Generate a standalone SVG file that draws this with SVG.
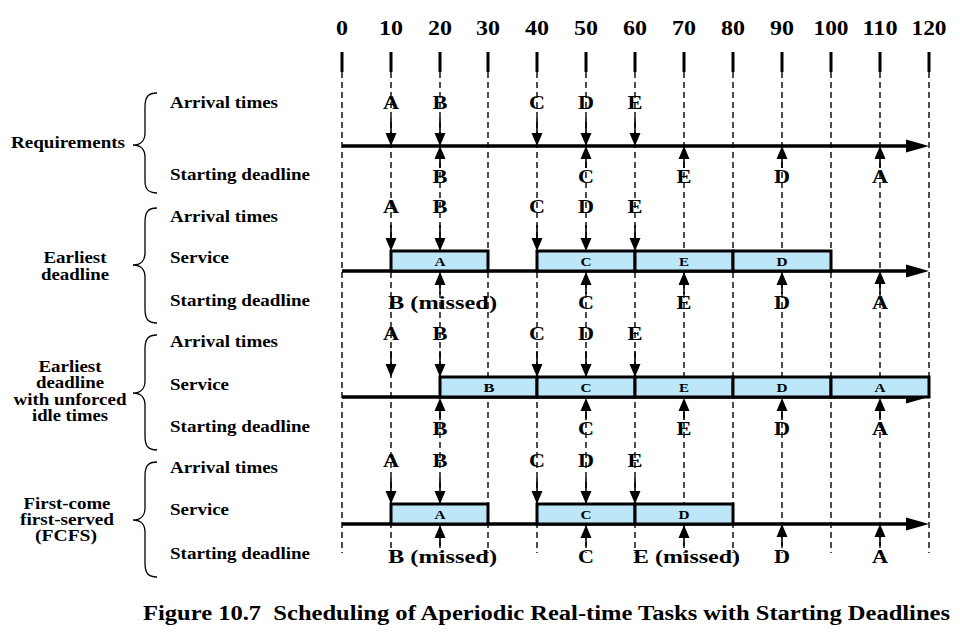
<svg xmlns="http://www.w3.org/2000/svg" xmlns:xlink="http://www.w3.org/1999/xlink" width="960" height="636" viewBox="0 0 960 636" font-family="'Liberation Serif', 'Times New Roman', serif">
<style>
text{font-family:"Liberation Serif","Times New Roman",Times,serif;font-weight:bold;fill:#000}
.num{font-size:20px;text-anchor:middle}
.lbl{font-size:16px}
.grp{font-size:16px;text-anchor:middle}
.let{font-size:18px;text-anchor:middle}
.miss{font-size:18px}
.bx{font-size:13px;text-anchor:middle}
.cap{font-size:20px;white-space:pre}
.dash{stroke:#000;stroke-width:1.4;stroke-dasharray:6 4;fill:none}
.tick{stroke:#000;stroke-width:3}
.axis{stroke:#000;stroke-width:3.5;fill:none}
.arr{stroke:#000;stroke-width:1.6}
.box{fill:#bde6f8;stroke:#000;stroke-width:3}
.brace{fill:none;stroke:#000;stroke-width:1.3}
</style>
<defs>
<path id="hd" d="M-5.5,-13 L5.5,-13 L0,0 Z" fill="#000"/>
<path id="hu" d="M-5.5,13 L5.5,13 L0,0 Z" fill="#000"/>
<path id="ax" d="M906,-6.5 L929,0 L906,6.5 Z" fill="#000"/>
</defs>

<g id="timeline">
<text class="num" x="342" y="35" textLength="12" lengthAdjust="spacingAndGlyphs">0</text>
<text class="num" x="391" y="35" textLength="24" lengthAdjust="spacingAndGlyphs">10</text>
<text class="num" x="440" y="35" textLength="24" lengthAdjust="spacingAndGlyphs">20</text>
<text class="num" x="488" y="35" textLength="24" lengthAdjust="spacingAndGlyphs">30</text>
<text class="num" x="537" y="35" textLength="24" lengthAdjust="spacingAndGlyphs">40</text>
<text class="num" x="586" y="35" textLength="24" lengthAdjust="spacingAndGlyphs">50</text>
<text class="num" x="635" y="35" textLength="24" lengthAdjust="spacingAndGlyphs">60</text>
<text class="num" x="684" y="35" textLength="24" lengthAdjust="spacingAndGlyphs">70</text>
<text class="num" x="733" y="35" textLength="24" lengthAdjust="spacingAndGlyphs">80</text>
<text class="num" x="782" y="35" textLength="24" lengthAdjust="spacingAndGlyphs">90</text>
<text class="num" x="831" y="35" textLength="35" lengthAdjust="spacingAndGlyphs">100</text>
<text class="num" x="880" y="35" textLength="35" lengthAdjust="spacingAndGlyphs">110</text>
<text class="num" x="929" y="35" textLength="35" lengthAdjust="spacingAndGlyphs">120</text>
<path class="tick" d="M342,52V72M391,52V72M440,52V72M488,52V72M537,52V72M586,52V72M635,52V72M684,52V72M733,52V72M782,52V72M831,52V72M880,52V72M929,52V72"/>
</g>

<g id="connectors">
<path class="dash" d="M342,72V553M391,72V553M440,72V553M488,72V553M537,72V553M586,72V553M635,72V553M684,72V553M733,72V553M782,72V553M831,72V553M880,72V553M929,72V553"/>
<path class="axis" d="M342,146H912M342,271H912M342,397H912M342,524H912"/>
<use href="#ax" y="146"/><use href="#ax" y="271"/><use href="#ax" y="397"/><use href="#ax" y="524"/>
<path class="arr" d="M391,118V136M440,118V136M537,118V136M586,118V136M635,118V136"/>
<use href="#hd" x="391" y="146"/><use href="#hd" x="440" y="146"/><use href="#hd" x="537" y="146"/><use href="#hd" x="586" y="146"/><use href="#hd" x="635" y="146"/>
<path class="arr" d="M440,156V168M586,156V168M684,156V168M782,156V168M880,156V168"/>
<use href="#hu" x="440" y="146"/><use href="#hu" x="586" y="146"/><use href="#hu" x="684" y="146"/><use href="#hu" x="782" y="146"/><use href="#hu" x="880" y="146"/>
</g>

<g id="requirements">
<path class="brace" d="M157,93 C148,93 145,97 145,107 L145,133 C145,141 140,145 133,145 C140,145 145,149 145,157 L145,181 C145,189 148,193 157,193"/>
<text class="lbl" x="11" y="148" textLength="114" lengthAdjust="spacingAndGlyphs">Requirements</text>
<text class="lbl" x="170" y="108" textLength="108" lengthAdjust="spacingAndGlyphs">Arrival times</text>
<text class="lbl" x="170" y="180" textLength="140" lengthAdjust="spacingAndGlyphs">Starting deadline</text>
<text class="let" x="391" y="109" textLength="16" lengthAdjust="spacingAndGlyphs">A</text>
<text class="let" x="440" y="109" textLength="15" lengthAdjust="spacingAndGlyphs">B</text>
<text class="let" x="537" y="109" textLength="16" lengthAdjust="spacingAndGlyphs">C</text>
<text class="let" x="586" y="109" textLength="16" lengthAdjust="spacingAndGlyphs">D</text>
<text class="let" x="635" y="109" textLength="15" lengthAdjust="spacingAndGlyphs">E</text>
<text class="let" x="440" y="183" textLength="15" lengthAdjust="spacingAndGlyphs">B</text>
<text class="let" x="586" y="183" textLength="16" lengthAdjust="spacingAndGlyphs">C</text>
<text class="let" x="684" y="183" textLength="15" lengthAdjust="spacingAndGlyphs">E</text>
<text class="let" x="782" y="183" textLength="16" lengthAdjust="spacingAndGlyphs">D</text>
<text class="let" x="880" y="183" textLength="16" lengthAdjust="spacingAndGlyphs">A</text>
</g>

<g id="earliest-deadline">
<path class="brace" d="M157,208 C148,208 145,212 145,222 L145,253 C145,261 140,265 133,265 C140,265 145,269 145,277 L145,309 C145,319 148,323 157,323"/>
<text class="grp" x="75" y="263" textLength="63" lengthAdjust="spacingAndGlyphs">Earliest</text>
<text class="grp" x="75" y="280" textLength="68" lengthAdjust="spacingAndGlyphs">deadline</text>
<text class="lbl" x="170" y="222" textLength="108" lengthAdjust="spacingAndGlyphs">Arrival times</text>
<text class="lbl" x="170" y="263" textLength="59" lengthAdjust="spacingAndGlyphs">Service</text>
<text class="lbl" x="170" y="306" textLength="140" lengthAdjust="spacingAndGlyphs">Starting deadline</text>
<rect class="box" x="391" y="251" width="97" height="20"/>
<rect class="box" x="537" y="251" width="98" height="20"/>
<rect class="box" x="635" y="251" width="98" height="20"/>
<rect class="box" x="733" y="251" width="98" height="20"/>
<text class="bx" x="440" y="266" textLength="11" lengthAdjust="spacingAndGlyphs">A</text>
<text class="bx" x="586" y="266" textLength="11" lengthAdjust="spacingAndGlyphs">C</text>
<text class="bx" x="684" y="266" textLength="10" lengthAdjust="spacingAndGlyphs">E</text>
<text class="bx" x="782" y="266" textLength="11" lengthAdjust="spacingAndGlyphs">D</text>
<path class="arr" d="M391,225V241M440,225V241M537,225V241M586,225V241M635,225V241"/>
<use href="#hd" x="391" y="251"/><use href="#hd" x="440" y="251"/><use href="#hd" x="537" y="251"/><use href="#hd" x="586" y="251"/><use href="#hd" x="635" y="251"/>
<path class="arr" d="M440,281V294M586,281V294M684,281V294M782,281V294M880,281V294"/>
<use href="#hu" x="440" y="272"/><use href="#hu" x="586" y="272"/><use href="#hu" x="684" y="272"/><use href="#hu" x="782" y="272"/><use href="#hu" x="880" y="271"/>
<text class="let" x="391" y="213" textLength="16" lengthAdjust="spacingAndGlyphs">A</text>
<text class="let" x="440" y="213" textLength="15" lengthAdjust="spacingAndGlyphs">B</text>
<text class="let" x="537" y="213" textLength="16" lengthAdjust="spacingAndGlyphs">C</text>
<text class="let" x="586" y="213" textLength="16" lengthAdjust="spacingAndGlyphs">D</text>
<text class="let" x="635" y="213" textLength="15" lengthAdjust="spacingAndGlyphs">E</text>
<text class="miss" x="388" y="309" textLength="109" lengthAdjust="spacingAndGlyphs">B (missed)</text>
<text class="let" x="586" y="309" textLength="16" lengthAdjust="spacingAndGlyphs">C</text>
<text class="let" x="684" y="309" textLength="15" lengthAdjust="spacingAndGlyphs">E</text>
<text class="let" x="782" y="309" textLength="16" lengthAdjust="spacingAndGlyphs">D</text>
<text class="let" x="880" y="309" textLength="16" lengthAdjust="spacingAndGlyphs">A</text>
</g>

<g id="earliest-deadline-unforced-idle">
<path class="brace" d="M157,335 C148,335 145,339 145,349 L145,381 C145,389 140,393 133,393 C140,393 145,397 145,405 L145,436 C145,446 148,450 157,450"/>
<text class="grp" x="70" y="372" textLength="63" lengthAdjust="spacingAndGlyphs">Earliest</text>
<text class="grp" x="70" y="388" textLength="68" lengthAdjust="spacingAndGlyphs">deadline</text>
<text class="grp" x="70" y="405" textLength="113" lengthAdjust="spacingAndGlyphs">with unforced</text>
<text class="grp" x="70" y="421" textLength="76" lengthAdjust="spacingAndGlyphs">idle times</text>
<text class="lbl" x="170" y="347" textLength="108" lengthAdjust="spacingAndGlyphs">Arrival times</text>
<text class="lbl" x="170" y="390" textLength="59" lengthAdjust="spacingAndGlyphs">Service</text>
<text class="lbl" x="170" y="432" textLength="140" lengthAdjust="spacingAndGlyphs">Starting deadline</text>
<rect class="box" x="440" y="377" width="97" height="20"/>
<rect class="box" x="537" y="377" width="98" height="20"/>
<rect class="box" x="635" y="377" width="98" height="20"/>
<rect class="box" x="733" y="377" width="98" height="20"/>
<rect class="box" x="831" y="377" width="98" height="20"/>
<text class="bx" x="489" y="392" textLength="11" lengthAdjust="spacingAndGlyphs">B</text>
<text class="bx" x="586" y="392" textLength="11" lengthAdjust="spacingAndGlyphs">C</text>
<text class="bx" x="684" y="392" textLength="10" lengthAdjust="spacingAndGlyphs">E</text>
<text class="bx" x="782" y="392" textLength="11" lengthAdjust="spacingAndGlyphs">D</text>
<text class="bx" x="880" y="392" textLength="11" lengthAdjust="spacingAndGlyphs">A</text>
<path class="arr" d="M391,351V367M440,351V367M537,351V367M586,351V367M635,351V367"/>
<use href="#hd" x="391" y="377"/><use href="#hd" x="440" y="377"/><use href="#hd" x="537" y="377"/><use href="#hd" x="586" y="377"/><use href="#hd" x="635" y="377"/>
<path class="arr" d="M440,407V420M586,407V420M684,407V420M782,407V420M880,407V420"/>
<use href="#hu" x="440" y="398"/><use href="#hu" x="586" y="398"/><use href="#hu" x="684" y="398"/><use href="#hu" x="782" y="398"/><use href="#hu" x="880" y="398"/>
<text class="let" x="391" y="340" textLength="16" lengthAdjust="spacingAndGlyphs">A</text>
<text class="let" x="440" y="340" textLength="15" lengthAdjust="spacingAndGlyphs">B</text>
<text class="let" x="537" y="340" textLength="16" lengthAdjust="spacingAndGlyphs">C</text>
<text class="let" x="586" y="340" textLength="16" lengthAdjust="spacingAndGlyphs">D</text>
<text class="let" x="635" y="340" textLength="15" lengthAdjust="spacingAndGlyphs">E</text>
<text class="let" x="440" y="435" textLength="15" lengthAdjust="spacingAndGlyphs">B</text>
<text class="let" x="586" y="435" textLength="16" lengthAdjust="spacingAndGlyphs">C</text>
<text class="let" x="684" y="435" textLength="15" lengthAdjust="spacingAndGlyphs">E</text>
<text class="let" x="782" y="435" textLength="16" lengthAdjust="spacingAndGlyphs">D</text>
<text class="let" x="880" y="435" textLength="16" lengthAdjust="spacingAndGlyphs">A</text>
</g>

<g id="fcfs">
<path class="brace" d="M157,462 C148,462 145,466 145,476 L145,508 C145,516 140,520 133,520 C140,520 145,524 145,532 L145,563 C145,573 148,577 157,577"/>
<text class="grp" x="67" y="509" textLength="87" lengthAdjust="spacingAndGlyphs">First-come</text>
<text class="grp" x="67" y="525" textLength="94" lengthAdjust="spacingAndGlyphs">first-served</text>
<text class="grp" x="66" y="541" textLength="62" lengthAdjust="spacingAndGlyphs">(FCFS)</text>
<text class="lbl" x="170" y="473" textLength="108" lengthAdjust="spacingAndGlyphs">Arrival times</text>
<text class="lbl" x="170" y="515" textLength="59" lengthAdjust="spacingAndGlyphs">Service</text>
<text class="lbl" x="170" y="559" textLength="140" lengthAdjust="spacingAndGlyphs">Starting deadline</text>
<rect class="box" x="391" y="504" width="97" height="20"/>
<rect class="box" x="537" y="504" width="98" height="20"/>
<rect class="box" x="635" y="504" width="98" height="20"/>
<text class="bx" x="440" y="519" textLength="11" lengthAdjust="spacingAndGlyphs">A</text>
<text class="bx" x="586" y="519" textLength="11" lengthAdjust="spacingAndGlyphs">C</text>
<text class="bx" x="684" y="519" textLength="11" lengthAdjust="spacingAndGlyphs">D</text>
<path class="arr" d="M391,478V494M440,478V494M537,478V494M586,478V494M635,478V494"/>
<use href="#hd" x="391" y="504"/><use href="#hd" x="440" y="504"/><use href="#hd" x="537" y="504"/><use href="#hd" x="586" y="504"/><use href="#hd" x="635" y="504"/>
<path class="arr" d="M440,534V546M586,534V546M684,534V546M782,534V546M880,534V546"/>
<use href="#hu" x="440" y="525"/><use href="#hu" x="586" y="525"/><use href="#hu" x="684" y="525"/><use href="#hu" x="782" y="524"/><use href="#hu" x="880" y="524"/>
<text class="let" x="391" y="467" textLength="16" lengthAdjust="spacingAndGlyphs">A</text>
<text class="let" x="440" y="467" textLength="15" lengthAdjust="spacingAndGlyphs">B</text>
<text class="let" x="537" y="467" textLength="16" lengthAdjust="spacingAndGlyphs">C</text>
<text class="let" x="586" y="467" textLength="16" lengthAdjust="spacingAndGlyphs">D</text>
<text class="let" x="635" y="467" textLength="15" lengthAdjust="spacingAndGlyphs">E</text>
<text class="miss" x="388" y="563" textLength="109" lengthAdjust="spacingAndGlyphs">B (missed)</text>
<text class="let" x="586" y="563" textLength="16" lengthAdjust="spacingAndGlyphs">C</text>
<text class="miss" x="633" y="563" textLength="107" lengthAdjust="spacingAndGlyphs">E (missed)</text>
<text class="let" x="782" y="563" textLength="16" lengthAdjust="spacingAndGlyphs">D</text>
<text class="let" x="880" y="563" textLength="16" lengthAdjust="spacingAndGlyphs">A</text>
</g>

<text class="cap" x="143" y="620" textLength="807" lengthAdjust="spacingAndGlyphs" xml:space="preserve">Figure 10.7  Scheduling of Aperiodic Real-time Tasks with Starting Deadlines</text>
</svg>
